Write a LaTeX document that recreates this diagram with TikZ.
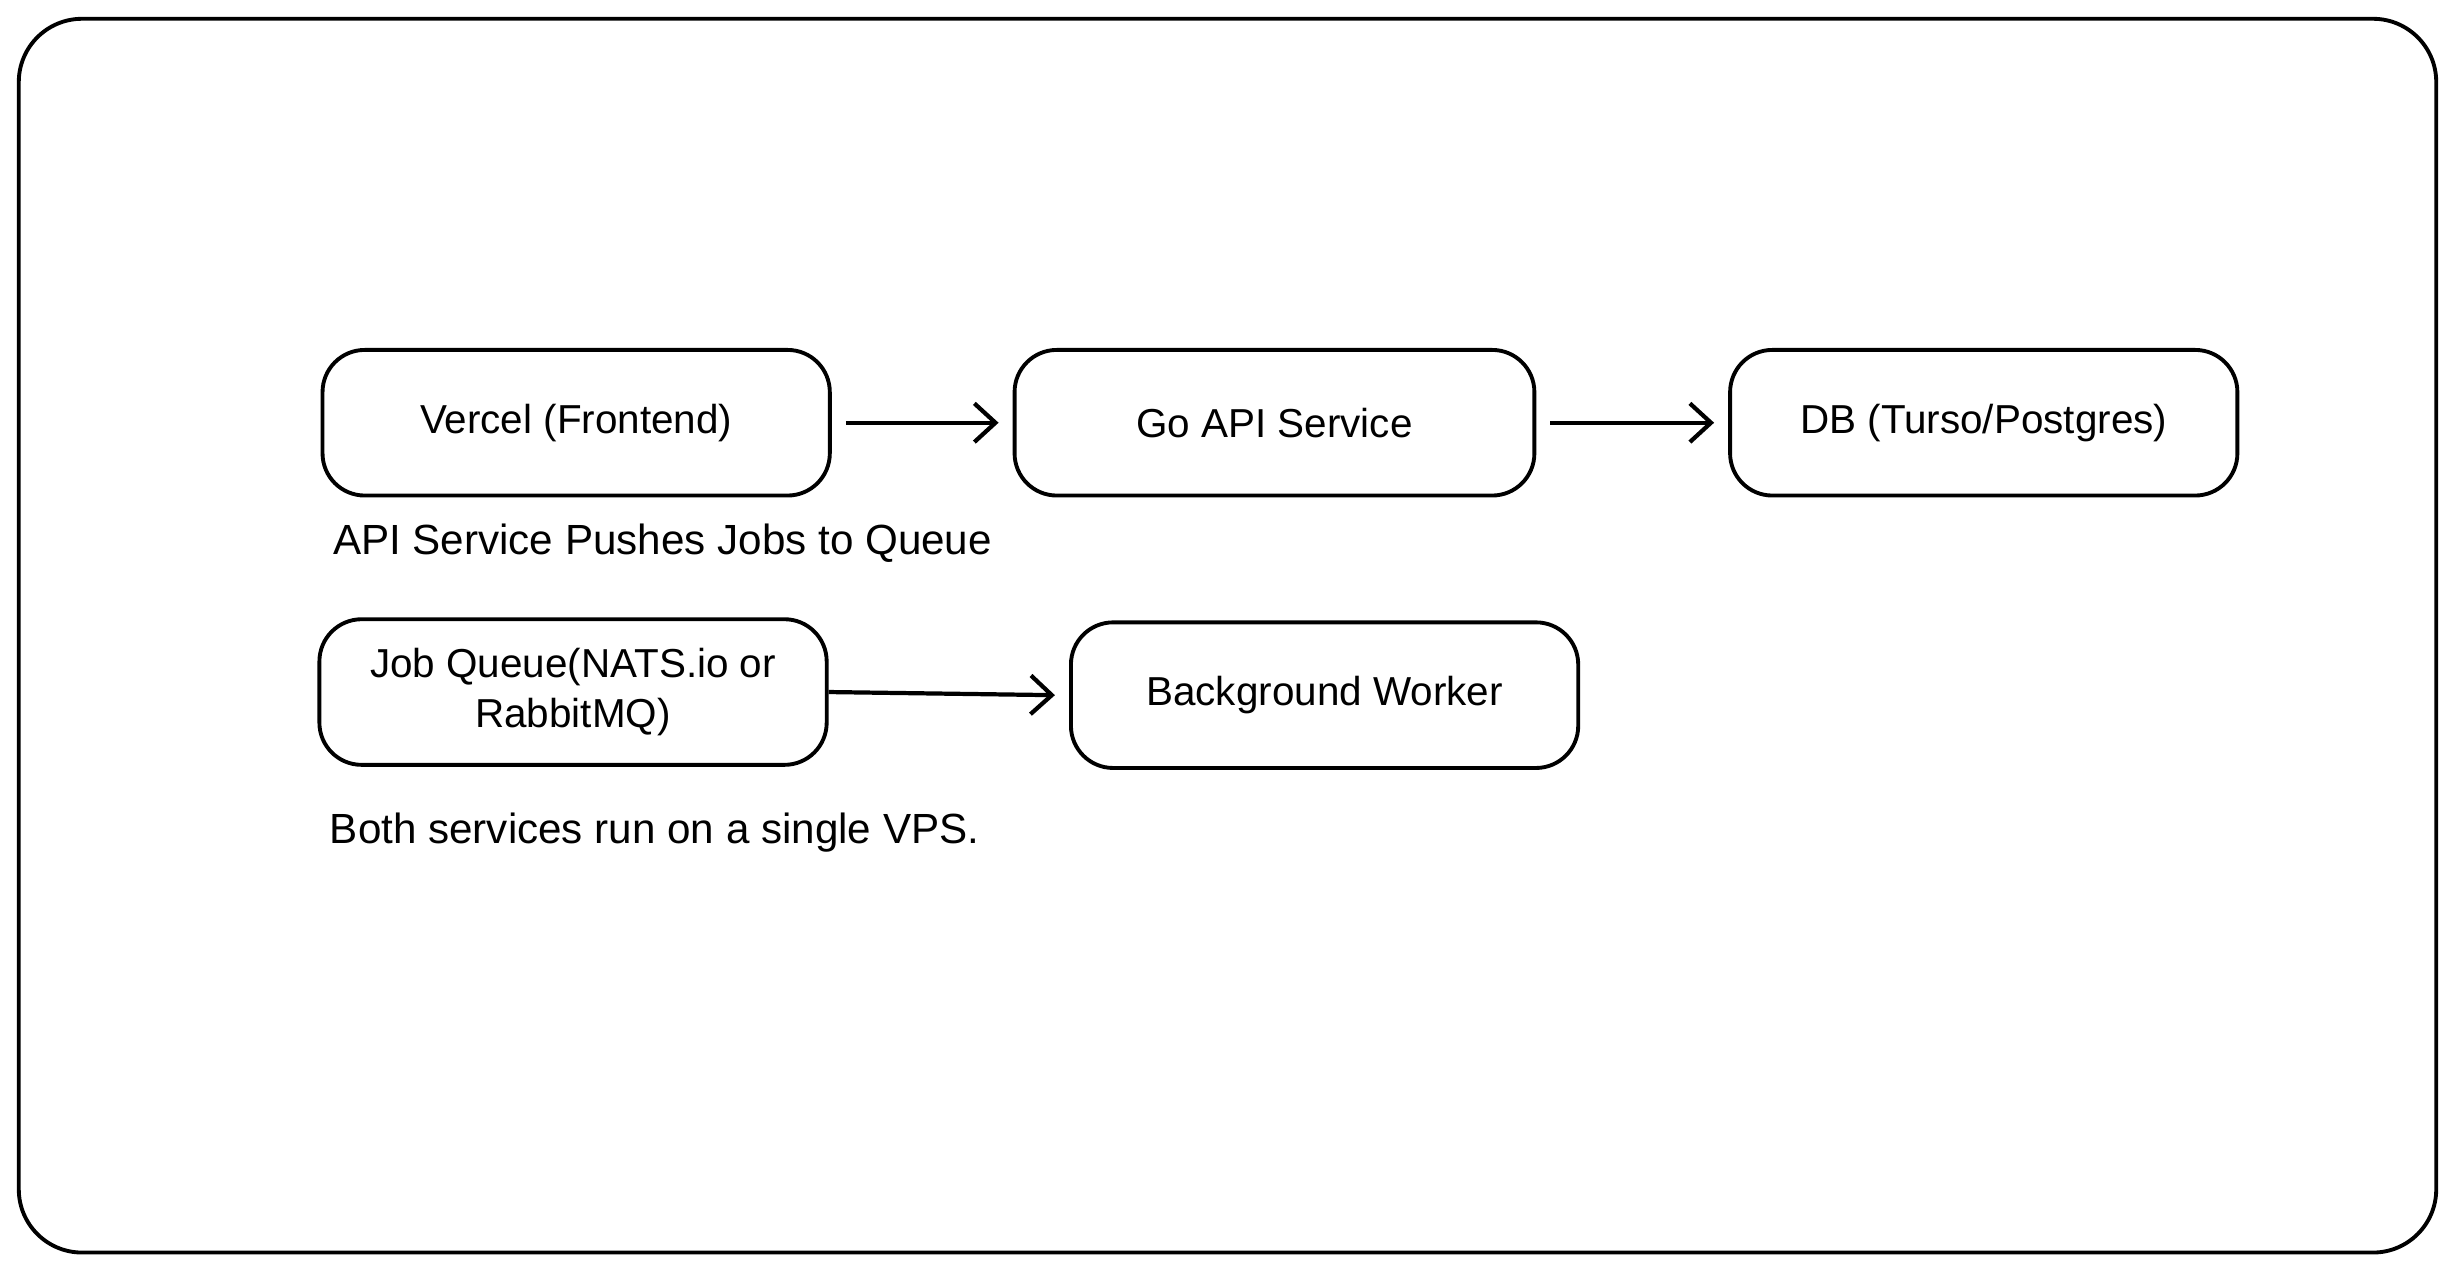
\documentclass[tikz,border=0pt]{standalone}
\usepackage{fontspec}
\setmainfont{Liberation Sans}
\usetikzlibrary{positioning,arrows.meta}

\begin{document}
\begin{tikzpicture}[x=0.01566cm,y=-0.01566cm,line width=1.1pt,
  box/.style={draw,rounded corners=12pt,minimum width=324*0.01566cm,
    minimum height=93*0.01566cm,align=center,font=\fontsize{11.5}{14}\selectfont},
  note/.style={anchor=west,font=\fontsize{12}{14}\selectfont},
  flow/.style={-{Straight Barb[length=6pt,width=11pt]},line width=1.2pt}]
  \useasboundingbox (0,0) rectangle (1568,812);
  % outer frame
  \draw[rounded corners=18pt] (12,12) rectangle (1556,800);
  \node[box] (vercel) at (368,270) {Vercel (Frontend)};
  \node[box,minimum width=332*0.01566cm] (api) at (814,270) {Go API Service};
  \node[box] (db) at (1267,270) {DB (Turso/Postgres)};
  \node[box] (queue) at (366,442) {Job Queue(NATS.io or\\RabbitMQ)};
  \node[box] (worker) at (846,444) {Background Worker};
  \node[note] (push) at (204,347) {API Service Pushes Jobs to Queue};
  \node[note] (vps) at (202,532) {Both services run on a single VPS.};
  \draw[flow] ([xshift=4pt]vercel.east) -- ([xshift=-4pt]api.west);
  \draw[flow] ([xshift=4pt]api.east) -- ([xshift=-4pt]db.west);
  \draw[flow] (queue.east) -- ([xshift=-4pt]worker.west);
\end{tikzpicture}
\end{document}
